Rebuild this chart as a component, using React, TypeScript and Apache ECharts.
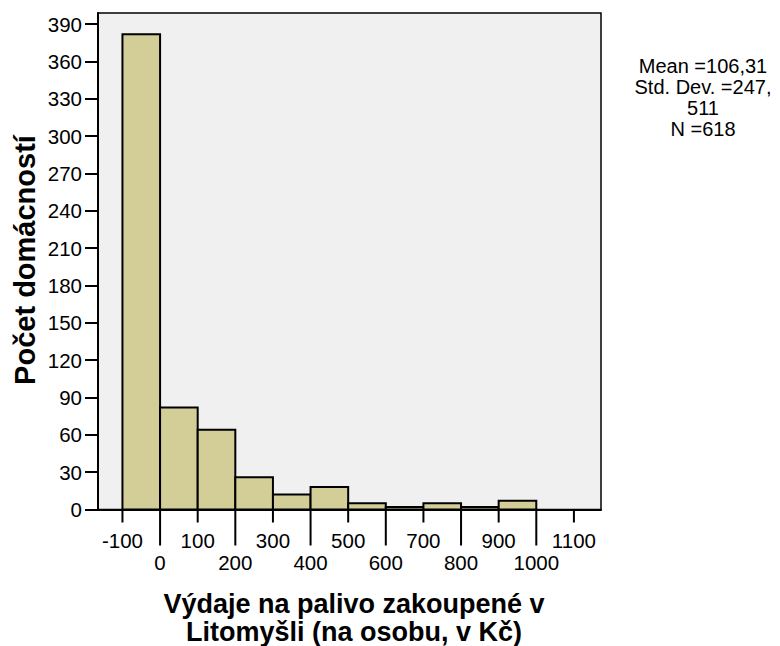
import React, { useEffect, useRef } from "react";
import * as echarts from "echarts";

const binEdges = [-100, 0, 100, 200, 300, 400, 500, 600, 700, 800, 900, 1000];
const counts = [382, 82, 64, 26, 12, 18, 5, 2, 5, 2, 7];
const xTickValues = [-100, 0, 100, 200, 300, 400, 500, 600, 700, 800, 900, 1000, 1100];
const statsLines = ["Mean =106,31", "Std. Dev. =247,", "511", "N =618"];
const yTitle = "Počet domácností";
const xTitleLines = ["Výdaje na palivo zakoupené v", "Litomyšli (na osobu, v Kč)"];

const FONT = "'Liberation Sans', Arial, sans-serif";

export default function App() {
  const ref = useRef<HTMLDivElement>(null);
  useEffect(() => {
    if (!ref.current) return;
    const chart = echarts.init(ref.current, undefined, { renderer: "svg" });
    const data = counts.map((c, i) => [binEdges[i], binEdges[i + 1], c]);
    const tickData = xTickValues.map((v) => [v, 0]);
    const xMin = -165;
    const xMax = 1172;
    chart.setOption({
      animation: false,
      backgroundColor: "#ffffff",
      grid: {
        left: 98,
        top: 13,
        right: 179,
        bottom: 136.5,
        show: true,
        backgroundColor: "#F0F0F0",
        borderColor: "#000000",
        borderWidth: 1.5,
        containLabel: false,
        outerBoundsMode: "none",
      },
      xAxis: {
        type: "value",
        position: "bottom",
        min: xMin,
        max: xMax,
        splitLine: { show: false },
        axisLine: { show: true, onZero: false, lineStyle: { color: "#000", width: 2 } },
        axisTick: { show: false },
        axisLabel: { show: false },
      },
      yAxis: {
        type: "value",
        min: 0,
        max: 399,
        interval: 30,
        splitLine: { show: false },
        axisLine: { show: true, onZero: false, lineStyle: { color: "#000", width: 2 } },
        axisTick: { show: true, length: 13, lineStyle: { color: "#000", width: 2 } },
        axisLabel: {
          margin: 16,
          fontFamily: FONT,
          fontSize: 20.5,
          color: "#000",
        },
      },
      series: [
        {
          type: "custom",
          xAxisIndex: 0,
          yAxisIndex: 0,
          encode: { x: [0, 1], y: 2 },
          data,
          renderItem: (params: any, api: any) => {
            const x0 = api.value(0);
            const x1 = api.value(1);
            const c = api.value(2);
            const p0 = api.coord([x0, c]);
            const p1 = api.coord([x1, 0]);
            return {
              type: "rect",
              shape: { x: p0[0], y: p0[1], width: p1[0] - p0[0], height: p1[1] - p0[1] },
              style: { fill: "#D3CE97", stroke: "#000", lineWidth: 2 },
            };
          },
        },
        {
          type: "custom",
          xAxisIndex: 0,
          yAxisIndex: 0,
          clip: false,
          encode: { x: 0, y: 1 },
          data: tickData,
          silent: true,
          renderItem: (params: any, api: any) => {
            const v = api.value(0);
            const p = api.coord([v, 0]);
            const odd = Math.abs(Math.round(v / 100)) % 2 === 1;
            const len = odd ? 13 : 36;
            const ty = p[1] + (odd ? 30.5 : 53);
            return {
              type: "group",
              children: [
                {
                  type: "line",
                  shape: { x1: p[0], y1: p[1], x2: p[0], y2: p[1] + len },
                  style: { stroke: "#000", lineWidth: 2 },
                },
                {
                  type: "text",
                  x: p[0],
                  y: ty,
                  style: {
                    text: String(v),
                    font: `20.5px ${FONT}`,
                    fill: "#000",
                    align: "center",
                    verticalAlign: "middle",
                  },
                },
              ],
            };
          },
        },
      ],
      graphic: [
        {
          type: "text",
          x: 25,
          y: 260,
          rotation: Math.PI / 2,
          style: {
            text: yTitle,
            font: `bold 29px ${FONT}`,
            fill: "#000",
            textAlign: "center",
            textVerticalAlign: "middle",
          },
        },
        {
          type: "text",
          x: 354,
          y: 618,
          style: {
            text: xTitleLines.join("\n"),
            font: `bold 27px ${FONT}`,
            lineHeight: 28,
            fill: "#000",
            textAlign: "center",
            textVerticalAlign: "middle",
          },
        },
        {
          type: "text",
          x: 703,
          y: 97,
          style: {
            text: statsLines.join("\n"),
            font: `20px ${FONT}`,
            lineHeight: 21,
            fill: "#000",
            textAlign: "center",
            textVerticalAlign: "middle",
          },
        },
      ],
    });
    return () => chart.dispose();
  }, []);
  return (
    <div
      ref={ref}
      style={{ position: "fixed", left: 0, top: 0, width: 780, height: 646 }}
    />
  );
}
